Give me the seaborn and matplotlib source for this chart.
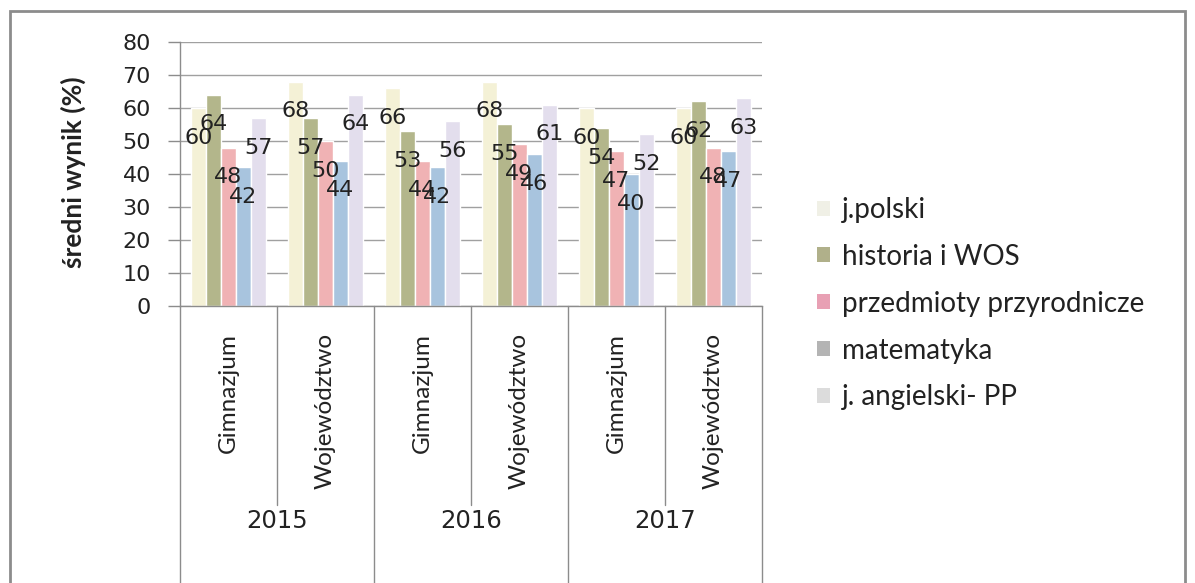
import pandas as pd
import matplotlib
matplotlib.use('Agg')
import matplotlib.pyplot as plt
import seaborn as sns
from matplotlib.patches import Rectangle, Patch

# dane
lata = ['2015', '2016', '2017']
jednostki = ['Gimnazjum', 'Województwo']
przedmioty = ['j.polski', 'historia i WOS', 'przedmioty przyrodnicze', 'matematyka', 'j. angielski- PP']

j_polski = [60, 68, 66, 68, 60, 60]
historia = [64, 57, 53, 55, 54, 62]
przyrodnicze = [48, 50, 44, 49, 47, 48]
matematyka = [42, 44, 42, 46, 40, 47]
angielski = [57, 64, 56, 61, 52, 63]

kolory = ['#f4f1d6', '#b3b68b', '#f0b2b4', '#a8c4de', '#e3deed']
kolory_legendy = ['#f0f0e6', '#b0b08a', '#e8a0b4', '#b4b4b4', '#dcdcdc']

grupy = [f'{r} {j}' for r in lata for j in jednostki]
serie = [j_polski, historia, przyrodnicze, matematyka, angielski]

df = pd.DataFrame({
    'grupa': grupy * len(przedmioty),
    'przedmiot': [p for p in przedmioty for _ in grupy],
    'wynik': [v for s in serie for v in s],
})

sns.set_style('white')
plt.rcParams['font.family'] = ['DejaVu Sans']

W, H = 1195, 583
fig = plt.figure(figsize=(W / 100, H / 100), dpi=100)
ax = fig.add_axes([180 / W, 1 - 306 / H, (762 - 180) / W, (306 - 42) / H])

sns.barplot(data=df, x='grupa', y='wynik', hue='przedmiot', palette=kolory,
            width=0.77, saturation=1, ax=ax, legend=False, zorder=2)

ax.set_xlim(-0.5, 5.5)
ax.set_ylim(0, 80)
ax.set_yticks(range(0, 81, 10))
ax.yaxis.grid(True, color='#a0a0a0', lw=1, zorder=0)
ax.set_axisbelow(True)
ax.tick_params(axis='y', direction='out', length=9, width=1, color='#8c8c8c',
               labelsize=16, pad=12, labelcolor='#222222', left=True)
ax.set_xticks([])
ax.set_xlabel('')
ax.set_ylabel('')
for s in ['top', 'right']:
    ax.spines[s].set_visible(False)
for s in ['left', 'bottom']:
    ax.spines[s].set_color('#8c8c8c')
    ax.spines[s].set_linewidth(1)

# etykiety wartości
for cont, vals in zip(ax.containers, serie):
    for bar, v in zip(cont, vals):
        ax.text(bar.get_x() + bar.get_width() / 2, v - 9, str(v),
                ha='center', va='center', fontsize=16, color='#222222', zorder=5)

# oś kategorii dwupoziomowa
tr = ax.get_xaxis_transform()
for i, b in enumerate([-0.5, 0.5, 1.5, 2.5, 3.5, 4.5, 5.5]):
    dol = -1.1 if i % 2 == 0 else -0.754
    ax.plot([b, b], [0, dol], transform=tr, color='#8c8c8c', lw=1, clip_on=False)
for i, g in enumerate(grupy):
    ax.text(i, -0.102, jednostki[i % 2], transform=tr, rotation=90, ha='center', va='top',
            fontsize=17.5, family='Lato', color='#222222')
for k, r in enumerate(lata):
    ax.text(2 * k + 0.5, -0.814, r, transform=tr, ha='center', va='center',
            fontsize=17.5, family='DejaVu Sans', color='#222222')

fig.text(73 / W, 1 - 172 / H, 'średni wynik (%)', rotation=90, ha='center', va='center',
         fontsize=19, family='Lato', fontweight='bold', color='#222222')

# legenda
uchwyty = [Patch(facecolor=c, edgecolor='none') for c in kolory_legendy]
fig.legend(uchwyty, przedmioty, loc='upper left', bbox_to_anchor=(792 / W, 1 - 172 / H),
           frameon=False, prop={'family': 'Lato', 'size': 20},
           handlelength=0.45, handleheight=0.45, handletextpad=0.45, labelspacing=0.75,
           labelcolor='#222222')

fig.patches.append(Rectangle((10 / W, -0.02), (1185 - 10) / W, 1 - 11 / H + 0.02,
                             transform=fig.transFigure, fill=False,
                             edgecolor='#8c8c8c', lw=2))

fig.savefig('out.png', dpi=100)
